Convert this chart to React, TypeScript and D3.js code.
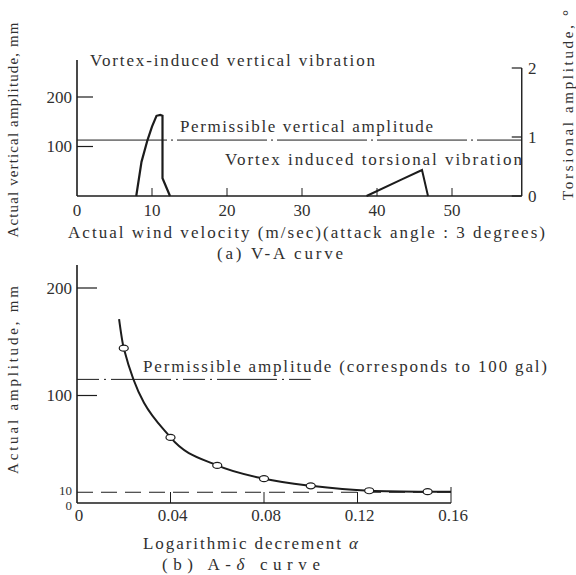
import React from "react";
import { scaleLinear, line, curveMonotoneX, curveLinear } from "d3";

// (a) V-A curve
const vertVel = [7.9, 8.6, 9.4, 10.0, 10.6, 11.1, 11.4, 11.4, 12.4];
const vertAmp = [0, 69, 113, 140, 162, 164, 162, 36, 0];
const torsVel = [38.6, 43.1, 46.0, 46.8];
const torsAmp = [0, 0.27, 0.44, 0];
const permissibleVert = 113;
const topXTicks = [0, 10, 20, 30, 40, 50];
const topLeftTicks = [100, 200];
const topRightTicks = [0, 1, 2];

// (b) A-delta curve
const curveDelta = [0.018, 0.02, 0.04, 0.06, 0.08, 0.1, 0.125, 0.15, 0.16];
const curveAmp = [171, 144, 61, 35, 22.6, 16, 11.4, 10.5, 10.4];
const markDelta = [0.02, 0.04, 0.06, 0.08, 0.1, 0.125, 0.15];
const markAmp = [144, 61, 35, 22.6, 16, 11.4, 10.5];
const permissibleAmp = 115;
const limitAmp = 10;
const botXTicks = [0, 0.04, 0.08, 0.12, 0.16];
const botXLabels = ["0", "0.04", "0.08", "0.12", "0.16"];
const botYTicks = [100, 200];
const botYLabels = [200, 100, 10, 0];

const ink = "#1c1c1c";
const textInk = "#303030";
const font = "'Liberation Serif', 'Times New Roman', serif";

export default function App() {
  // top chart scales
  const xTop = scaleLinear().domain([0, 50]).range([77, 452]);
  const yTop = scaleLinear().domain([0, 200]).range([196, 97]);
  const yTors = scaleLinear().domain([0, 1, 2]).range([196, 137, 68]);
  const xTopEnd = 59.3;

  // bottom chart scales
  const xBot = scaleLinear().domain([0, 0.16]).range([77, 451]);
  const yBot = scaleLinear().domain([0, 200]).range([503, 288]);

  const vertLine = line<number>()
    .x((d, i) => xTop(vertVel[i]))
    .y((d) => yTop(d))
    .curve(curveLinear);
  const torsLine = line<number>()
    .x((d, i) => xTop(torsVel[i]))
    .y((d) => yTors(d));
  const ampLine = line<number>()
    .x((d, i) => xBot(curveDelta[i]))
    .y((d) => yBot(d))
    .curve(curveMonotoneX);

  const txt = (s, x, y, len, size = 17, extra = {}) => (
    <text
      x={x}
      y={y}
      textLength={len}
      lengthAdjust="spacing"
      fontSize={size}
      fill={textInk}
      {...extra}
    >
      {s}
    </text>
  );

  return (
    <svg
      width={576}
      height={575}
      style={{ position: "absolute", left: 0, top: 0, background: "white" }}
      fontFamily={font}
    >
      {/* ---------- (a) V-A curve ---------- */}
      <g stroke={ink} fill="none">
        <line x1={77} x2={77} y1={60} y2={yTop(0)} strokeWidth={1.6} />
        <line x1={77} x2={xTop(xTopEnd)} y1={yTop(0)} y2={yTop(0)} strokeWidth={1.6} />
        <line
          x1={xTop(xTopEnd)}
          x2={xTop(xTopEnd)}
          y1={yTors(2)}
          y2={yTors(0)}
          strokeWidth={1.4}
        />
        {topLeftTicks.map((t) => (
          <line key={t} x1={77} x2={93} y1={yTop(t)} y2={yTop(t)} strokeWidth={1.2} />
        ))}
        {topRightTicks.map((t) => (
          <line
            key={t}
            x1={xTop(xTopEnd) - 10}
            x2={xTop(xTopEnd)}
            y1={yTors(t)}
            y2={yTors(t)}
            strokeWidth={1.2}
          />
        ))}
        {topXTicks.slice(1).map((t) => (
          <line key={t} x1={xTop(t)} x2={xTop(t)} y1={yTop(0) - 8} y2={yTop(0)} strokeWidth={1} />
        ))}
        <line
          x1={77}
          x2={xTop(xTopEnd)}
          y1={yTop(permissibleVert)}
          y2={yTop(permissibleVert)}
          strokeWidth={1}
          strokeDasharray="90 4 2 4"
        />
        <path d={vertLine(vertAmp) || ""} strokeWidth={2.2} />
        <path d={torsLine(torsAmp) || ""} strokeWidth={2} />
      </g>
      {topLeftTicks.map((t) => (
        <text
          key={t}
          x={72}
          y={yTop(t)}
          dy="0.35em"
          textAnchor="end"
          fontSize={17}
          fill={textInk}
        >
          {t}
        </text>
      ))}
      {topRightTicks.map((t) => (
        <text key={t} x={528} y={yTors(t)} dy="0.35em" fontSize={17} fill={textInk}>
          {t}
        </text>
      ))}
      {topXTicks.map((t) => (
        <text key={t} x={xTop(t)} y={216} textAnchor="middle" fontSize={17} fill={textInk}>
          {t}
        </text>
      ))}
      {txt("Vortex-induced vertical vibration", 90, 66, 285)}
      {txt("Permissible vertical amplitude", 180, 132, 253)}
      {txt("Vortex induced torsional vibration", 225, 165, 297)}
      {txt("Actual wind velocity (m/sec)(attack angle : 3 degrees)", 68, 238, 477)}
      {txt("(a) V-A curve", 217, 259, 126)}
      {txt("Actual vertical amplitude, mm", 0, 0, 215, 15, {
        textAnchor: "middle",
        transform: "translate(18,130) rotate(-90)",
      })}
      {txt("Torsional amplitude, °", 0, 0, 190, 15, {
        textAnchor: "middle",
        transform: "translate(573,105) rotate(-90)",
      })}

      {/* ---------- (b) A-delta curve ---------- */}
      <g stroke={ink} fill="none">
        <line x1={77} x2={77} y1={265} y2={yBot(0)} strokeWidth={1.6} />
        <line x1={77} x2={xBot(0.16)} y1={yBot(0)} y2={yBot(0)} strokeWidth={1.6} />
        {botYTicks.map((t) => (
          <line key={t} x1={77} x2={97} y1={yBot(t)} y2={yBot(t)} strokeWidth={1.2} />
        ))}
        {botXTicks.slice(1).map((t) => (
          <line
            key={t}
            x1={xBot(t)}
            x2={xBot(t)}
            y1={yBot(0) - (t === 0.16 ? 16 : 11)}
            y2={yBot(0)}
            strokeWidth={1}
          />
        ))}
        <line
          x1={77}
          x2={xBot(0.1)}
          y1={yBot(permissibleAmp)}
          y2={yBot(permissibleAmp)}
          strokeWidth={1}
          strokeDasharray="22 5 2 5 60 5 2 5"
        />
        <line
          x1={77}
          x2={xBot(0.16)}
          y1={yBot(limitAmp)}
          y2={yBot(limitAmp)}
          strokeWidth={1}
          strokeDasharray="16 8"
        />
        <path d={ampLine(curveAmp) || ""} strokeWidth={2} />
      </g>
      {markAmp.map((a, i) => (
        <ellipse
          key={i}
          cx={xBot(markDelta[i])}
          cy={yBot(a)}
          rx={4.5}
          ry={3}
          fill="white"
          stroke={ink}
          strokeWidth={1.2}
        />
      ))}
      {botYLabels.map((t) => (
        <text
          key={t}
          x={72}
          y={yBot(t) + (t === 0 ? 2 : t === 10 ? -2 : 0)}
          dy="0.35em"
          textAnchor="end"
          fontSize={t <= 10 ? 13 : 17}
          fill={textInk}
        >
          {t}
        </text>
      ))}
      {botXTicks.map((t, i) => (
        <text key={t} x={xBot(t) + 2} y={521} textAnchor="middle" fontSize={17} fill={textInk}>
          {botXLabels[i]}
        </text>
      ))}
      {txt("Permissible amplitude (corresponds to 100 gal)", 143, 372, 404)}
      <text x={143} y={549} fontSize={17} fill={textInk} textLength={215} lengthAdjust="spacing">
        Logarithmic decrement <tspan fontStyle="italic">α</tspan>
      </text>
      <text x={162} y={570} fontSize={17} fill={textInk} textLength={158} lengthAdjust="spacing">
        (b) A-<tspan fontStyle="italic">δ</tspan> curve
      </text>
      {txt("Actual amplitude, mm", 0, 0, 188, 15, {
        textAnchor: "middle",
        transform: "translate(18,380) rotate(-90)",
      })}
    </svg>
  );
}
